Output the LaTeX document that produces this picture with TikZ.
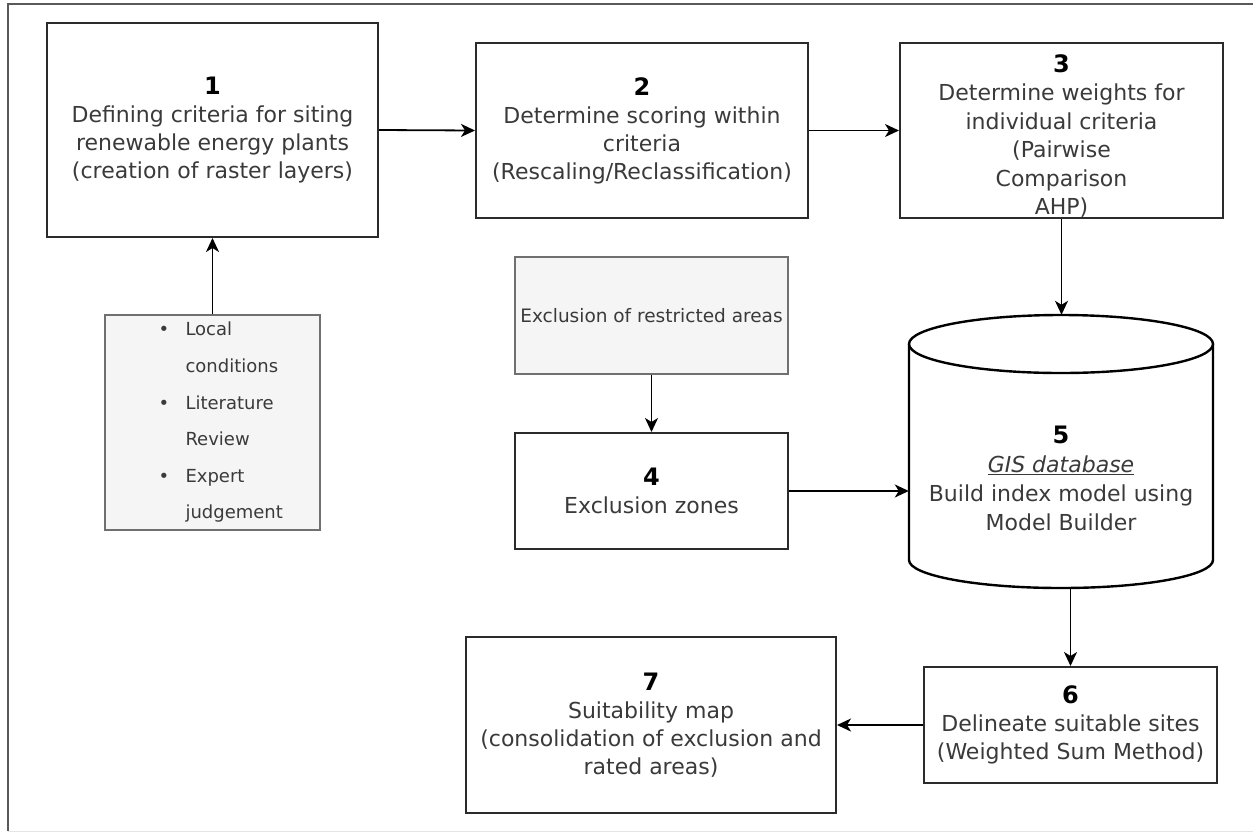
\documentclass[tikz,border=0pt]{standalone}
\usepackage{fontspec}
\setmainfont{DejaVu Sans}
\usetikzlibrary{arrows.meta}
\definecolor{boxline}{HTML}{2B2B2B}
\definecolor{greyfill}{HTML}{F5F5F5}
\definecolor{greyline}{HTML}{707070}
\definecolor{txt}{HTML}{3A3A3A}
\newcommand{\stepnum}[1]{{\color{black}\bfseries\fontsize{24}{28}\selectfont #1}}
\newcommand{\itm}[1]{\hspace*{26pt}\makebox[27pt][l]{•}#1}
\newcommand{\cnt}[1]{\hspace*{53pt}#1}
\begin{document}
\begin{tikzpicture}[x=1pt,y=-1pt,
  box/.style={draw=boxline, line width=2pt, fill=white, align=center, text=txt,
    font=\fontsize{22}{28}\selectfont, inner sep=2pt},
  boxtext/.style={align=center, text=txt, font=\fontsize{22}{28.5}\selectfont, inner sep=0pt},
  greybox/.style={draw=greyline, line width=1.2pt, fill=greyfill, text=txt},
  arr/.style={draw=black, line width=1.8pt, -{Stealth[length=14pt,width=13pt,inset=4pt]}},
  cylline/.style={draw=black, line width=2.4pt}]
\useasboundingbox (0,0) rectangle (1253,839);
% outer frame
\draw[line width=2pt, color=black!65] (8,831) -- (8,4) -- (1253,4);
\draw[line width=1pt, color=black!10] (8,831) -- (1253,831);

% boxes
\node[box, minimum width=331pt, minimum height=214pt] (b1) at (212.5,130)
  {\stepnum{1}\\Defining criteria for siting\\renewable energy plants\\(creation of raster layers)};
\node[box, minimum width=332pt, minimum height=175pt] (b2) at (642,130.5)
  {\stepnum{2}\\Determine scoring within\\criteria\\(Rescaling/Reclassification)};
\node[box, minimum width=323pt, minimum height=175pt] (b3) at (1061.5,130.5) {};
\node[boxtext] (b3txt) at (1061.5,136)
  {\stepnum{3}\\Determine weights for\\individual criteria\\(Pairwise\\Comparison\\AHP)};
\node[greybox, minimum width=215pt, minimum height=215pt, inner sep=0pt, text width=160pt, align=left,
  font=\fontsize{18}{36.6}\selectfont] (crit) at (212.5,422.5)
  {\itm{Local}\\\cnt{conditions}\\\itm{Literature}\\\cnt{Review}\\\itm{Expert}\\\cnt{judgement}};
\node[greybox, minimum width=273pt, minimum height=117pt, inner sep=0pt, font=\fontsize{18.5}{22}\selectfont] (excl) at (651.5,315.5)
  {Exclusion of restricted areas};
\node[box, minimum width=273pt, minimum height=116pt] (b4) at (651.5,491)
  {\stepnum{4}\\Exclusion zones};

% cylinder (database)
\node[minimum width=304pt, minimum height=273pt, inner sep=0pt] (cyl) at (1061,451.5) {};
\fill[white] (909,344) -- (909,560) arc[start angle=180, end angle=360, x radius=152pt, y radius=28pt] -- (1213,344) -- cycle;
\draw[cylline] (909,344) -- (909,560) arc[start angle=180, end angle=360, x radius=152pt, y radius=28pt] -- (1213,344);
\draw[cylline, fill=white] (1061,344) ellipse [x radius=152pt, y radius=29pt];
\node[align=center, text=txt, font=\fontsize{22}{29}\selectfont] (cyltxt) at (1061,478)
  {\stepnum{5}\\\underline{\textit{GIS database}}\\Build index model using\\Model Builder};

\node[box, minimum width=293pt, minimum height=116pt] (b6) at (1070.5,725)
  {\stepnum{6}\\Delineate suitable sites\\(Weighted Sum Method)};
\node[box, minimum width=370pt, minimum height=176pt] (b7) at (651,725)
  {\stepnum{7}\\Suitability map\\(consolidation of exclusion and\\rated areas)};

% connectors
\draw[arr] (b1.east) -- (b2.west);
\draw[arr] (b2.east) -- (b3.west |- b2.east);
\draw[arr] (b3.south) -- (b3.south |- cyl.north);
\draw[arr] (crit.north) -- (b1.south);
\draw[arr] (excl.south) -- (b4.north);
\draw[arr] (b4.east) -- (b4.east -| cyl.west);
\draw[arr] (cyl.south -| b6.north) -- (b6.north);
\draw[arr] (b6.west) -- (b7.east);
\end{tikzpicture}
\end{document}
